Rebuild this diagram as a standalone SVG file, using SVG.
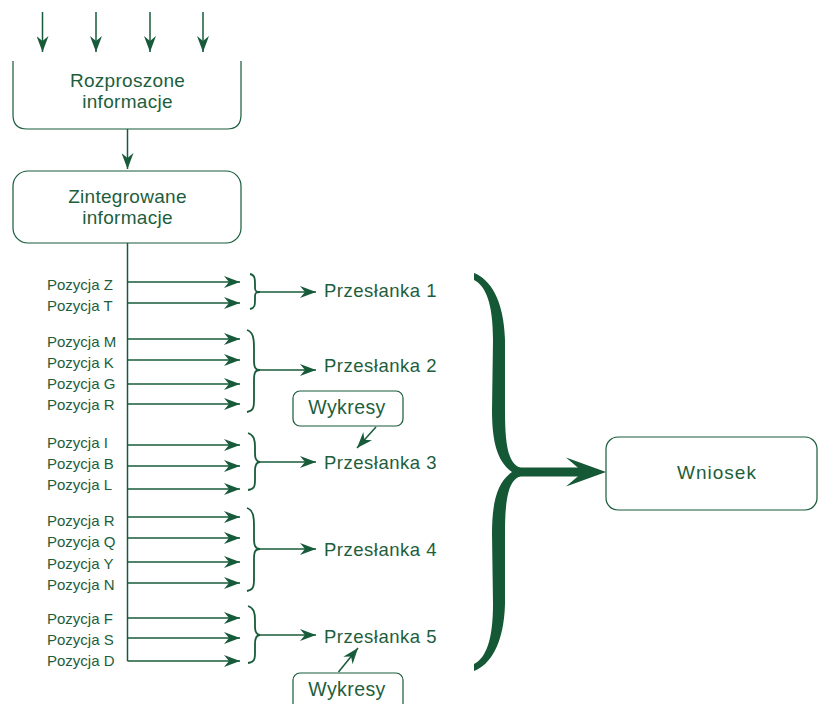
<svg xmlns="http://www.w3.org/2000/svg" width="818" height="704" viewBox="0 0 818 704">
<defs>
<marker id="ah" markerWidth="16" markerHeight="12" refX="16" refY="6" orient="auto" markerUnits="userSpaceOnUse">
<path d="M0,0 L16,6 L0,12 L5,6 Z" fill="#175b3a"/>
</marker>
<style>
.ln{stroke:#175b3a;stroke-width:1.5;fill:none}
.ar{stroke:#175b3a;stroke-width:1.5;fill:none;marker-end:url(#ah)}
.box{stroke:#175b3a;stroke-width:1.2;fill:#fff}
.br{stroke:#175b3a;stroke-width:1.8;fill:none}
text{font-family:"Liberation Sans",Arial,sans-serif;fill:#1d5e3d}
.big{font-size:19px;letter-spacing:0.3px;text-anchor:middle}
.poz{font-size:15px}
.prz{font-size:18.5px;letter-spacing:0.5px}
.wyk{font-size:19.5px;letter-spacing:0.4px;text-anchor:middle}
</style>
</defs>
<rect width="818" height="704" fill="#fff"/>

<g id="connectors">
<line class="ar" x1="42.5" y1="12" x2="42.5" y2="52"/>
<line class="ar" x1="96" y1="12" x2="96" y2="52"/>
<line class="ar" x1="150" y1="12" x2="150" y2="52"/>
<line class="ar" x1="203" y1="12" x2="203" y2="52"/>
<line class="ar" x1="127.5" y1="129" x2="127.5" y2="169"/>
<line class="ln" x1="127.5" y1="243" x2="127.5" y2="661"/>
<line class="ar" x1="127.5" y1="282" x2="240" y2="282"/>
<line class="ar" x1="127.5" y1="303" x2="240" y2="303"/>
<line class="ar" x1="127.5" y1="339" x2="240" y2="339"/>
<line class="ar" x1="127.5" y1="360" x2="240" y2="360"/>
<line class="ar" x1="127.5" y1="384" x2="240" y2="384"/>
<line class="ar" x1="127.5" y1="404" x2="240" y2="404"/>
<line class="ar" x1="127.5" y1="445" x2="240" y2="445"/>
<line class="ar" x1="127.5" y1="466" x2="240" y2="466"/>
<line class="ar" x1="127.5" y1="489" x2="240" y2="489"/>
<line class="ar" x1="127.5" y1="517" x2="240" y2="517"/>
<line class="ar" x1="127.5" y1="538" x2="240" y2="538"/>
<line class="ar" x1="127.5" y1="562" x2="240" y2="562"/>
<line class="ar" x1="127.5" y1="583" x2="240" y2="583"/>
<line class="ar" x1="127.5" y1="618" x2="240" y2="618"/>
<line class="ar" x1="127.5" y1="638" x2="240" y2="638"/>
<line class="ar" x1="127.5" y1="661" x2="240" y2="661"/>
<!-- braces -->
<path class="br" d="M250,274 C255,275 255,279 255,284 L255,288 C255,291 256,292 260,292 C256,292 255,293 255,296 L255,300 C255,305 255,308 250,309"/>
<path class="br" d="M247,330 C253,332 254,338 254,348 L254,360 C254,367 255,370 260,370 C255,370 254,373 254,380 L254,400 C254,408 253,411 247,412"/>
<path class="br" d="M248,433 C254,435 255,440 255,447 L255,453 C255,459 256,462 260,462 C256,462 255,465 255,471 L255,480 C255,487 254,489 248,490"/>
<path class="br" d="M247,508 C253,510 254,516 254,526 L254,538 C254,545 255,549 260,549 C255,549 254,552 254,559 L254,579 C254,587 253,590 247,591"/>
<path class="br" d="M248,606 C254,608 255,613 255,620 L255,626 C255,632 256,635 260,635 C256,635 255,638 255,644 L255,653 C255,660 254,662 248,663"/>
<line class="ar" x1="259" y1="292" x2="316" y2="292"/>
<line class="ar" x1="259" y1="370" x2="316" y2="370"/>
<line class="ar" x1="259" y1="462" x2="316" y2="462"/>
<line class="ar" x1="259" y1="549" x2="316" y2="549"/>
<line class="ar" x1="259" y1="635" x2="316" y2="635"/>
<line class="ar" x1="376" y1="427" x2="357" y2="448"/>
<line class="ar" x1="338.5" y1="672" x2="358" y2="648"/>
<!-- big brace -->
<path fill="#155835" d="M474,273 C490,279 504,300 505,340 L505,410 C505,445 508,464 521,468 L521,476 C508,480 505,499 505,534 L505,604 C504,644 490,665 474,671 L474,664 C486,658 493,640 493,604 L492,534 C492,500 498,482 512,472 C498,462 492,444 492,410 L493,340 C493,304 486,286 474,280 Z"/>
<rect x="512" y="467.5" width="73" height="9" fill="#155835"/>
<path fill="#155835" d="M606,472 L566,457.5 L583,472 L566,486.5 Z"/>
</g>

<g id="rozproszone">
<path class="box" d="M13,61 L13,115 C13,124 18,129 27,129 L227,129 C236,129 241,124 241,115 L241,61"/>
<text class="big" x="127.5" y="87">Rozproszone</text>
<text class="big" x="127.5" y="108">informacje</text>
</g>

<g id="zintegrowane">
<rect class="box" x="13" y="171" width="228" height="72" rx="15"/>
<text class="big" x="127.5" y="203">Zintegrowane</text>
<text class="big" x="127.5" y="224">informacje</text>
</g>

<g id="pozycje">
<text class="poz" x="47" y="290">Pozycja Z</text>
<text class="poz" x="47" y="311">Pozycja T</text>
<text class="poz" x="47" y="347">Pozycja M</text>
<text class="poz" x="47" y="368">Pozycja K</text>
<text class="poz" x="47" y="389">Pozycja G</text>
<text class="poz" x="47" y="410">Pozycja R</text>
<text class="poz" x="47" y="448">Pozycja I</text>
<text class="poz" x="47" y="469">Pozycja B</text>
<text class="poz" x="47" y="490">Pozycja L</text>
<text class="poz" x="47" y="526">Pozycja R</text>
<text class="poz" x="47" y="547">Pozycja Q</text>
<text class="poz" x="47" y="569">Pozycja Y</text>
<text class="poz" x="47" y="590">Pozycja N</text>
<text class="poz" x="47" y="624">Pozycja F</text>
<text class="poz" x="47" y="645">Pozycja S</text>
<text class="poz" x="47" y="666">Pozycja D</text>
</g>

<g id="przeslanka1"><text class="prz" x="324" y="297">Przesłanka 1</text></g>
<g id="przeslanka2"><text class="prz" x="324" y="372">Przesłanka 2</text></g>
<g id="przeslanka3"><text class="prz" x="324" y="469">Przesłanka 3</text></g>
<g id="przeslanka4"><text class="prz" x="324" y="556">Przesłanka 4</text></g>
<g id="przeslanka5"><text class="prz" x="324" y="643">Przesłanka 5</text></g>

<g id="wykresy1">
<rect class="box" x="293" y="391" width="110" height="35" rx="7"/>
<text class="wyk" x="347" y="414">Wykresy</text>
</g>
<g id="wykresy2">
<rect class="box" x="293" y="673" width="110" height="40" rx="7"/>
<text class="wyk" x="347" y="696">Wykresy</text>
</g>

<g id="wniosek">
<rect class="box" x="606" y="437" width="211" height="73" rx="12"/>
<text x="717" y="479" style="font-size:19px;letter-spacing:1px;text-anchor:middle">Wniosek</text>
</g>
</svg>
